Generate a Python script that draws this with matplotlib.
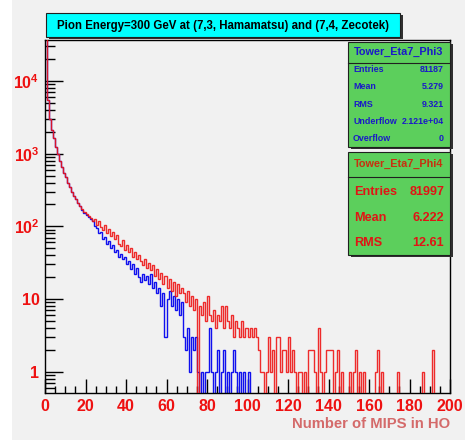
import numpy as np
import matplotlib
matplotlib.use("Agg")
import matplotlib.pyplot as plt
from matplotlib.patches import Rectangle
from matplotlib.lines import Line2D

# ---------------- data ----------------
bin_edges_range = (0, 200)
n_bins = 200

# Tower_Eta7_Phi3 (Hamamatsu) - blue
phi3_counts = [
    45000, 5500, 3000, 2100, 1650, 1250, 1000, 800, 650, 540,
    470, 400, 350, 300, 265, 235, 210, 190, 170, 155,
    145, 135, 125, 118, 100, 95, 80, 84, 66, 72,
    58, 62, 50, 55, 44, 48, 38, 42, 35, 38,
    30, 33, 26, 30, 22, 27, 20, 17, 22, 18,
    21, 16, 22, 14, 17, 12, 14, 8, 12, 3,
    10, 13, 8, 11, 7, 10, 6, 9, 3, 2,
    4, 1, 3, 2, 3, 1, 0, 1, 0, 1,
    1, 4, 1, 0, 1, 2, 0, 1, 2, 0,
    1, 0, 1, 2, 1, 0, 1, 0, 1, 0,
    1, 0, 0, 0, 0, 0, 0, 0, 0, 0,
    0, 0, 0, 0, 0, 0, 0, 0, 0, 0,
    0, 0, 0, 0, 0, 0, 0, 0, 0, 0,
    0, 0, 0, 0, 0, 0, 0, 0, 0, 0,
    0, 0, 0, 0, 0, 0, 0, 0, 0, 0,
    0, 0, 0, 0, 0, 0, 0, 0, 0, 0,
    0, 0, 0, 0, 0, 0, 0, 0, 0, 0,
    0, 0, 0, 0, 0, 0, 0, 0, 0, 0,
    0, 0, 0, 0, 0, 0, 0, 0, 0, 0,
    0, 0, 0, 0, 0, 0, 0, 0, 0, 0,
]

# Tower_Eta7_Phi4 (Zecotek) - red
phi4_counts = [
    50000, 5500, 3000, 2100, 1650, 1250, 1000, 800, 650, 540,
    470, 400, 350, 300, 265, 235, 210, 190, 172, 160,
    150, 138, 132, 118, 128, 106, 118, 98, 90, 104,
    80, 92, 74, 84, 66, 76, 58, 54, 64, 48,
    56, 44, 50, 38, 45, 35, 41, 33, 29, 36,
    27, 31, 25, 29, 21, 26, 19, 23, 16, 21,
    14, 19, 13, 17, 11, 16, 12, 14, 12, 9,
    13, 8, 11, 7, 10, 0, 8, 6, 9, 5,
    11, 6, 5, 7, 4, 6, 5, 8, 4, 8,
    5, 4, 6, 3, 5, 4, 3, 5, 3, 4,
    3, 4, 3, 4, 3, 2, 1, 1, 0, 1,
    3, 1, 2, 0, 3, 3, 1, 2, 2, 1,
    3, 1, 2, 1, 0, 1, 1, 0, 1, 0,
    2, 2, 2, 1, 0, 4, 1, 0, 1, 2,
    2, 2, 0, 1, 2, 0, 1, 0, 0, 0,
    1, 0, 1, 2, 0, 1, 0, 1, 0, 0,
    0, 0, 0, 1, 2, 0, 1, 0, 0, 0,
    0, 0, 0, 0, 1, 0, 0, 0, 0, 0,
    0, 0, 0, 0, 0, 0, 1, 0, 0, 0,
    0, 2, 0, 0, 0, 0, 0, 0, 0, 0,
]

title_text = "Pion Energy=300 GeV at (7,3, Hamamatsu) and (7,4, Zecotek)"
xlabel_text = "Number of MIPS in HO"
x_ticks = [0, 20, 40, 60, 80, 100, 120, 140, 160, 180, 200]
y_ticks = [1, 10, 100, 1000, 10000]
y_tick_labels = ["1", "10", r"$\mathbf{10^{2}}$", r"$\mathbf{10^{3}}$", r"$\mathbf{10^{4}}$"]

stats1_title = "Tower_Eta7_Phi3"
stats1_rows = [("Entries", "81187"), ("Mean", "5.279"), ("RMS", "9.321"),
               ("Underflow", "2.121e+04"), ("Overflow", "0")]
stats2_title = "Tower_Eta7_Phi4"
stats2_rows = [("Entries", "81997"), ("Mean", "6.222"), ("RMS", "12.61")]

# ---------------- figure ----------------
W, H = 472, 440
plt.rcParams['font.family'] = ['Liberation Sans', 'DejaVu Sans']
plt.rcParams['mathtext.fontset'] = 'custom'
plt.rcParams['mathtext.rm'] = 'Liberation Sans'
plt.rcParams['mathtext.bf'] = 'Liberation Sans:bold'

BG = '#f1f1f1'
fig = plt.figure(figsize=(W / 100, H / 100), dpi=100, facecolor='white')

def fx(x):
    return x / W

def fy(y):
    return 1 - y / H

# gray canvas
fig.add_artist(Rectangle((fx(12), fy(440)), fx(465) - fx(12), fy(0) - fy(440),
                         transform=fig.transFigure, facecolor=BG, edgecolor='none', zorder=0))

ax = fig.add_axes([fx(45), fy(393), fx(450) - fx(45), fy(40) - fy(393)])
ax.set_facecolor(BG)

edges = np.linspace(bin_edges_range[0], bin_edges_range[1], n_bins + 1)
blue_vals = np.array(phi3_counts, dtype=float)
red_vals = np.array(phi4_counts, dtype=float)
blue_plot = np.where(blue_vals > 0, blue_vals, 1e-3)
red_plot = np.where(red_vals > 0, red_vals, 1e-3)

ax.stairs(blue_plot, edges, baseline=None, color='#1010ee', lw=1.0, zorder=2)
ax.stairs(red_plot, edges, baseline=None, color='#ee1515', lw=1.0, zorder=3, alpha=0.9)

ax.set_yscale('log')
ax.set_xlim(0, 200)
ax.set_ylim(0.51, 36600)

ax.set_xticks(x_ticks)
ax.set_xticklabels([str(t) for t in x_ticks])
ax.set_xticks(np.arange(0, 201, 5), minor=True)
ax.set_yticks(y_ticks)
ax.set_yticklabels(y_tick_labels)
minor_y = [m * 10 ** e for e in range(-1, 5) for m in range(2, 10)]
minor_y = [v for v in minor_y if 0.51 <= v <= 36600]
ax.set_yticks(minor_y, minor=True)
ax.yaxis.set_minor_formatter(matplotlib.ticker.NullFormatter())

ax.tick_params(axis='both', which='both', direction='in', colors='black',
               labelcolor='#ee1111', top=False, right=False)
ax.tick_params(axis='x', which='major', length=10, width=1, pad=4, labelsize=11.5)
ax.tick_params(axis='x', which='minor', length=5, width=1)
ax.tick_params(axis='y', which='major', length=13, width=1, pad=4, labelsize=11.5)
ax.tick_params(axis='y', which='minor', length=7, width=1)
for lbl in ax.get_xticklabels() + ax.get_yticklabels():
    lbl.set_fontweight('bold')
for sp in ax.spines.values():
    sp.set_color('black')
    sp.set_linewidth(1)

fig.text(fx(450), fy(424), xlabel_text, ha='right', va='center',
         color='#d46a6a', fontsize=10.7, fontweight='bold')

# ---------------- title box ----------------
def shadow_box(x0, y0, x1, y1, face, z=10):
    fig.add_artist(Rectangle((fx(x0 + 3), fy(y1 + 2)), fx(x1) - fx(x0), fy(y0) - fy(y1),
                             transform=fig.transFigure, facecolor='#303030',
                             edgecolor='none', zorder=z))
    fig.add_artist(Rectangle((fx(x0), fy(y1)), fx(x1) - fx(x0), fy(y0) - fy(y1),
                             transform=fig.transFigure, facecolor=face,
                             edgecolor='#202020', lw=0.8, zorder=z + 1))

shadow_box(46, 13, 400, 37, '#00ffff')
fig.text(fx(223), fy(25.5), title_text, ha='center', va='center',
         fontsize=8.3, fontweight='bold', color='black', zorder=20)

# ---------------- stats boxes ----------------
GREEN = '#5ccf5c'
shadow_box(348, 42, 450, 147, GREEN)
fig.text(fx(399), fy(52), stats1_title, ha='center', va='center',
         fontsize=7.8, fontweight='bold', color='#1a1ac8', zorder=20)
fig.add_artist(Line2D([fx(348), fx(450)], [fy(63), fy(63)], transform=fig.transFigure,
                      color='#202020', lw=0.8, zorder=20))
for i, (k, v) in enumerate(stats1_rows):
    yy = 69.5 + i * 17.3
    fig.text(fx(353), fy(yy), k, ha='left', va='center', fontsize=6.4,
             fontweight='bold', color='#1a1ac8', zorder=20)
    fig.text(fx(444), fy(yy), v, ha='right', va='center', fontsize=6.4,
             fontweight='bold', color='#1a1ac8', zorder=20)

shadow_box(348, 152, 450, 255, GREEN)
fig.text(fx(399), fy(164), stats2_title, ha='center', va='center',
         fontsize=7.8, fontweight='bold', color='#c8300f', zorder=20)
fig.add_artist(Line2D([fx(348), fx(450)], [fy(177), fy(177)], transform=fig.transFigure,
                      color='#202020', lw=0.8, zorder=20))
for i, (k, v) in enumerate(stats2_rows):
    yy = 192 + i * 25.5
    fig.text(fx(354), fy(yy), k, ha='left', va='center', fontsize=9.1,
             fontweight='bold', color='#e01515', zorder=20)
    fig.text(fx(444), fy(yy), v, ha='right', va='center', fontsize=9.1,
             fontweight='bold', color='#e01515', zorder=20)

fig.savefig('out.png', dpi=100, facecolor='white')
